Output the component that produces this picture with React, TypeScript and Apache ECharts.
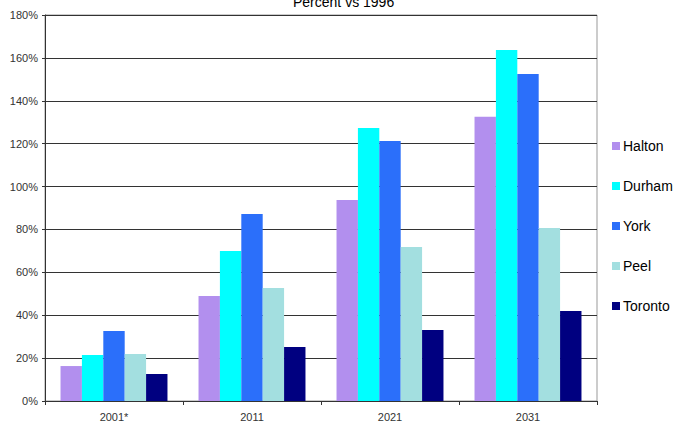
import React, { useEffect, useRef } from "react";
import * as echarts from "echarts";

const categories = ["2001*", "2011", "2021", "2031"];
const seriesNames = ["Halton", "Durham", "York", "Peel", "Toronto"];
const halton = [16.3, 49, 93.7, 132.5];
const durham = [21.5, 70, 127.3, 163.7];
const york = [32.6, 87.2, 121.3, 152.5];
const peel = [21.9, 52.7, 71.8, 80.7];
const toronto = [12.6, 25.2, 33.1, 42];
const colors = ["#B28FEE", "#00FFFF", "#2B6FFA", "#A3DFE0", "#000080"];

export default function App() {
  const ref = useRef<HTMLDivElement>(null);
  useEffect(() => {
    if (!ref.current) return;
    const chart = echarts.init(ref.current, undefined, { renderer: "svg" });
    const data = [halton, durham, york, peel, toronto];
    chart.setOption({
      animation: false,
      textStyle: { fontFamily: "Liberation Sans" },
      title: {
        text: "Percent vs 1996",
        left: 293,
        top: -5,
        padding: 0,
        textStyle: { fontSize: 14, fontWeight: "normal", color: "#000", fontFamily: "Liberation Sans" },
      },
      grid: {
        left: 45,
        right: 99,
        top: 15,
        bottom: 25,
        show: true,
        borderColor: "#999",
        borderWidth: 1,
      },
      legend: {
        orient: "vertical",
        left: 612,
        top: 138,
        padding: 0,
        itemWidth: 8,
        itemHeight: 8,
        itemGap: 24,
        icon: "rect",
        data: seriesNames,
        textStyle: { fontSize: 14, color: "#000", lineHeight: 16, fontFamily: "Liberation Sans", padding: [0, 0, 0, -2] },
      },
      xAxis: {
        type: "category",
        data: categories,
        axisLine: { lineStyle: { color: "#333", width: 1 } },
        axisTick: { show: true, length: 4, lineStyle: { color: "#333" } },
        axisLabel: { fontSize: 11, color: "#333", margin: 10 },
      },
      yAxis: {
        type: "value",
        min: 0,
        max: 180,
        interval: 20,
        axisLine: { show: true, lineStyle: { color: "#333", width: 1 } },
        axisTick: { show: true, length: 3, lineStyle: { color: "#333" } },
        axisLabel: { fontSize: 11, color: "#333", formatter: "{value}%", margin: 7 },
        splitLine: { show: true, lineStyle: { color: "#333", width: 1 } },
      },
      series: seriesNames.map((name, i) => ({
        name,
        type: "bar",
        data: data[i],
        barGap: "0%",
        barCategoryGap: "22.5%",
        itemStyle: { color: colors[i] },
      })),
    });
    return () => chart.dispose();
  }, []);
  return (
    <div
      ref={ref}
      style={{ position: "fixed", left: 0, top: 0, width: 696, height: 426, background: "#fff" }}
    />
  );
}
